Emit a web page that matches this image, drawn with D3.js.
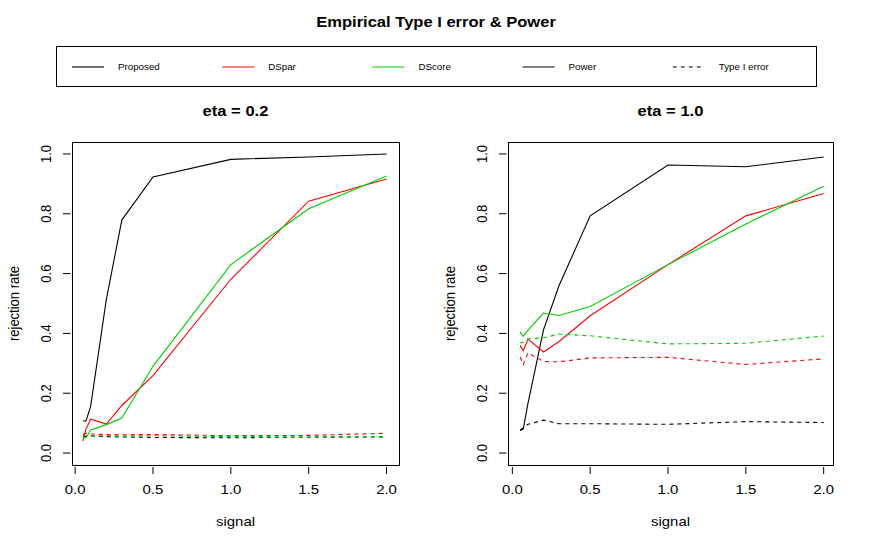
<!DOCTYPE html>
<html lang="en">
<head>
  <meta charset="UTF-8">
  <title>Empirical Type I error & Power</title>
  <style>
    body {
      margin: 0;
      padding: 0;
      background-color: white;
    }
    svg text {
      font-family: "Liberation Sans", Arial, Helvetica, sans-serif;
      fill: black;
    }
    .box {
      fill: none;
      stroke: black;
      stroke-width: 1;
    }
    .series {
      fill: none;
      stroke-width: 1.1;
    }
  </style>
</head>
<body>
  <div id="chart"></div>

  <script src="https://d3js.org/d3.v7.min.js"></script>
  <script>
    // signal levels (x axis)
    var signal = [0.05, 0.07, 0.1, 0.2, 0.3, 0.5, 1.0, 1.5, 2.0];

    // eta = 0.2 : power
    var proposedPow02 = [0.107, 0.107, 0.157, 0.512, 0.779, 0.923, 0.982, 0.990, 1.000];
    var dsparPow02    = [0.040, 0.080, 0.113, 0.097, 0.159, 0.259, 0.581, 0.842, 0.916];
    var dscorePow02   = [0.048, 0.052, 0.077, 0.095, 0.117, 0.290, 0.630, 0.817, 0.926];
    // eta = 0.2 : type I error
    var proposedT1_02 = [0.055, 0.056, 0.057, 0.055, 0.054, 0.052, 0.051, 0.053, 0.054];
    var dsparT1_02    = [0.062, 0.066, 0.064, 0.062, 0.061, 0.062, 0.058, 0.059, 0.066];
    var dscoreT1_02   = [0.057, 0.058, 0.057, 0.058, 0.057, 0.058, 0.055, 0.053, 0.055];

    // eta = 1.0 : power
    var proposedPow10 = [0.075, 0.080, 0.165, 0.412, 0.560, 0.793, 0.963, 0.957, 0.990];
    var dsparPow10    = [0.360, 0.342, 0.381, 0.338, 0.373, 0.459, 0.630, 0.793, 0.868];
    var dscorePow10   = [0.405, 0.390, 0.410, 0.468, 0.460, 0.490, 0.630, 0.766, 0.892];
    // eta = 1.0 : type I error
    var proposedT1_10 = [0.077, 0.085, 0.096, 0.110, 0.098, 0.098, 0.096, 0.105, 0.102];
    var dsparT1_10    = [0.321, 0.296, 0.335, 0.306, 0.305, 0.318, 0.320, 0.296, 0.315];
    var dscoreT1_10   = [0.368, 0.370, 0.382, 0.385, 0.398, 0.392, 0.365, 0.367, 0.391];

    var xTicks = [0, 0.5, 1.0, 1.5, 2.0];
    var yTicks = [0, 0.2, 0.4, 0.6, 0.8, 1.0];

    var methodColors = ["#000000", "#ff0000", "#00cd00"];
    var legendLabels = ["Proposed", "DSpar", "DScore", "Power", "Type I error"];

    var panels = [
      { title: "eta = 0.2", x0: 72, x1: 399, xDomain: [-0.02, 2.08],
        power: [proposedPow02, dsparPow02, dscorePow02],
        typeI: [proposedT1_02, dsparT1_02, dscoreT1_02] },
      { title: "eta = 1.0", x0: 508, x1: 833, xDomain: [-0.028, 2.06],
        power: [proposedPow10, dsparPow10, dscorePow10],
        typeI: [proposedT1_10, dsparT1_10, dscoreT1_10] }
    ];

    var W = 872, H = 545;
    var plotTop = 142, plotBottom = 465;
    var stretch = 1.15; // the picture's text is a bit wide

    var svg = d3.select("#chart").append("svg")
      .attr("width", W)
      .attr("height", H);

    // text helper, stretched a little horizontally
    function label(g, x, y, txt, size, opts) {
      opts = opts || {};
      var t = "translate(" + x + "," + y + ") scale(" + stretch + ",1)";
      if (opts.rotate) t += " rotate(-90)";
      return g.append("text")
        .attr("transform", t)
        .attr("text-anchor", opts.anchor || "middle")
        .attr("dy", opts.dy || 0)
        .style("font-size", size + "px")
        .style("font-weight", opts.bold ? "bold" : "normal")
        .text(txt);
    }

    // main title
    label(svg, 436, 27, "Empirical Type I error & Power", 14.4, {bold: true});

    // legend
    var legend = svg.append("g");
    legend.append("rect")
      .attr("class", "box")
      .attr("x", 56.5).attr("y", 46.5)
      .attr("width", 760).attr("height", 40);

    legendLabels.forEach(function(name, i) {
      var lx = 72 + i * 150.2;
      var col = i < 3 ? methodColors[i] : "#000000";
      legend.append("line")
        .attr("x1", lx).attr("x2", lx + 32)
        .attr("y1", 67).attr("y2", 67)
        .attr("stroke", col)
        .attr("stroke-width", 1.1)
        .attr("stroke-dasharray", i === 4 ? "4,4" : null);
      label(legend, lx + 46, 67, name, 8.5, {anchor: "start", dy: "0.35em"});
    });

    panels.forEach(function(p) {
      var g = svg.append("g");

      var x = d3.scaleLinear().domain(p.xDomain).range([p.x0, p.x1]);
      var y = d3.scaleLinear().domain([-0.04, 1.04]).range([plotBottom, plotTop]);

      var line = d3.line()
        .x(function(d, i) { return x(signal[i]); })
        .y(function(d) { return y(d); });

      p.power.forEach(function(vals, m) {
        g.append("path")
          .datum(vals)
          .attr("class", "series")
          .attr("stroke", methodColors[m])
          .attr("d", line);
      });
      p.typeI.forEach(function(vals, m) {
        g.append("path")
          .datum(vals)
          .attr("class", "series")
          .attr("stroke", methodColors[m])
          .attr("stroke-dasharray", "4,4")
          .attr("d", line);
      });

      // plot box
      g.append("rect")
        .attr("class", "box")
        .attr("x", p.x0 + 0.5).attr("y", plotTop + 0.5)
        .attr("width", p.x1 - p.x0).attr("height", plotBottom - plotTop);

      // x ticks
      xTicks.forEach(function(t) {
        g.append("line")
          .attr("x1", x(t)).attr("x2", x(t))
          .attr("y1", plotBottom + 2).attr("y2", plotBottom + 9)
          .attr("stroke", "black");
        label(g, x(t), 494, d3.format(".1f")(t), 13);
      });

      // y ticks
      yTicks.forEach(function(t) {
        g.append("line")
          .attr("x1", p.x0 - 9).attr("x2", p.x0 - 1.5)
          .attr("y1", y(t)).attr("y2", y(t))
          .attr("stroke", "black");
        label(g, p.x0 - 21.5, y(t), d3.format(".1f")(t), 13, {rotate: true});
      });

      var cx = (p.x0 + p.x1) / 2;
      label(g, cx, 116, p.title, 14.4, {bold: true});
      label(g, cx, 521, "signal", 13, {dy: "0.35em"});
      label(g, p.x0 - 58, (plotTop + plotBottom) / 2, "rejection rate", 13, {rotate: true, dy: "0.35em"});
    });
  </script>
</body>
</html>
